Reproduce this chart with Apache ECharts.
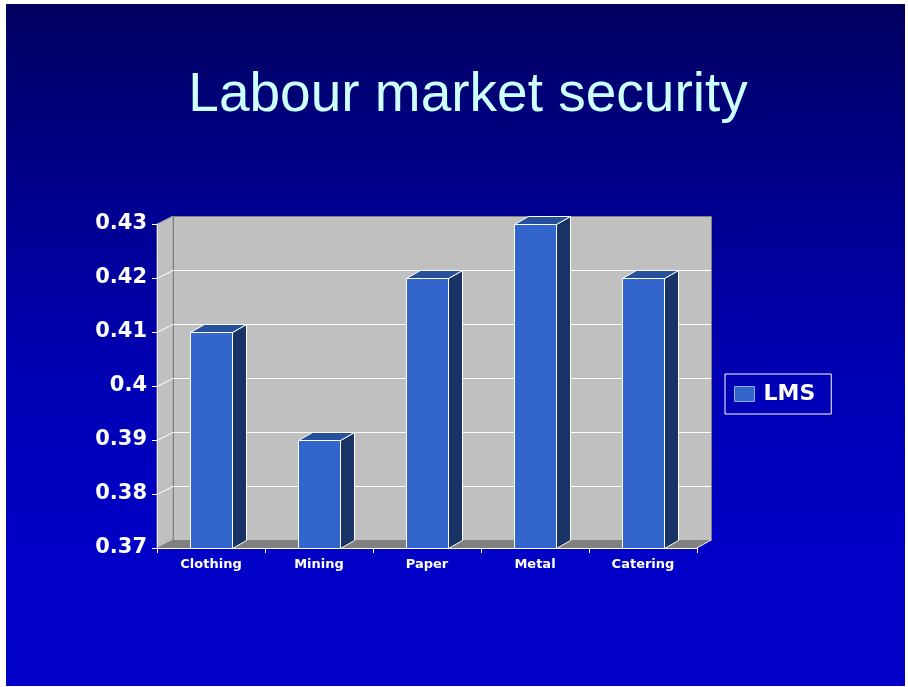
<!DOCTYPE html>
<html>
<head>
<meta charset="utf-8">
<title>Labour market security</title>
<script src="https://cdn.jsdelivr.net/npm/echarts@6/dist/echarts.min.js"></script>
<style>
  html, body { margin: 0; padding: 0; background: #ffffff; }
  #slide {
    position: absolute; left: 6px; top: 4px; width: 899px; height: 682px;
    background: linear-gradient(to bottom, #000060 0%, #000090 30%, #0000b4 55%, #0000c6 80%, #0000c8 100%);
  }
  #chart { position: absolute; left: 0; top: 0; width: 908px; height: 687px; }
</style>
</head>
<body>
<div id="slide"></div>
<div id="chart"></div>
<script>
// Chart data
const categories = ['Clothing', 'Mining', 'Paper', 'Metal', 'Catering'];
const lmsValues = [0.41, 0.39, 0.42, 0.43, 0.42];
const gridValues = [0.37, 0.38, 0.39, 0.40, 0.41, 0.42, 0.43];
const yMin = 0.37;
const yMax = 0.43;
const yStep = 0.01;

// 3D look: offset of the back wall and depth of each column
const WALL_DX = 16, WALL_DY = -8;
const BAR_DX = 14, BAR_DY = -8;

const chart = echarts.init(document.getElementById('chart'), null, { renderer: 'canvas' });

// Back wall, side wall, floor and the gridlines drawn on them
function renderBackdrop(params, api) {
  const cs = params.coordSys;
  const left = cs.x, top = cs.y, right = cs.x + cs.width, bottom = cs.y + cs.height;
  const children = [];
  const v = api.value(1);
  if (params.dataIndex === 0) {
    children.push({
      type: 'polygon',
      shape: { points: [[left, top], [left + WALL_DX, top + WALL_DY], [left + WALL_DX, bottom + WALL_DY], [left, bottom]] },
      style: { fill: '#c0c0c0', stroke: '#9a9a9a', lineWidth: 1 }
    });
    children.push({
      type: 'rect',
      shape: { x: left + WALL_DX + 0.5, y: top + WALL_DY + 0.5, width: cs.width - 2, height: cs.height },
      style: { fill: '#c0c0c0', stroke: '#808080', lineWidth: 1 }
    });
    children.push({
      type: 'polygon',
      shape: { points: [[left, bottom], [left + WALL_DX, bottom + WALL_DY], [right + WALL_DX - 2, bottom + WALL_DY], [right, bottom]] },
      style: { fill: '#808080' }
    });
    children.push({
      type: 'line',
      shape: { x1: right, y1: bottom, x2: right + WALL_DX - 2, y2: bottom + WALL_DY },
      style: { stroke: '#ffffff', lineWidth: 1 }
    });
  }
  if (v > yMin && v < yMax) {
    const y = Math.round(api.coord([0, v])[1]) + 0.5;
    children.push({
      type: 'polyline',
      shape: { points: [[left, y], [left + WALL_DX, y + WALL_DY], [right + WALL_DX - 2, y + WALL_DY]] },
      style: { stroke: '#ffffff', lineWidth: 1, fill: null }
    });
  }
  return { type: 'group', children: children };
}

// Columns with a front face, a lit top and a shaded side
function renderColumn(params, api) {
  const idx = api.value(0);
  const val = api.value(1);
  const topPt = api.coord([idx, val]);
  const basePt = api.coord([idx, yMin]);
  const w = Math.round(api.size([1, 0])[0] * 0.39);
  const x0 = Math.round(topPt[0] - w / 2) + 0.5;
  const x1 = x0 + w;
  const yT = Math.round(topPt[1]) + 0.5;
  const yB = Math.round(basePt[1]) + 0.5;
  const edge = { stroke: '#ffffff', lineWidth: 1, lineJoin: 'round' };
  return {
    type: 'group',
    children: [
      {
        type: 'polygon',
        shape: { points: [[x1, yT], [x1 + BAR_DX, yT + BAR_DY], [x1 + BAR_DX, yB + BAR_DY], [x1, yB]] },
        style: Object.assign({ fill: '#1a3366' }, edge)
      },
      {
        type: 'polygon',
        shape: { points: [[x0, yT], [x0 + BAR_DX, yT + BAR_DY], [x1 + BAR_DX, yT + BAR_DY], [x1, yT]] },
        style: Object.assign({ fill: '#27509c' }, edge)
      },
      {
        type: 'rect',
        shape: { x: x0, y: yT, width: w, height: yB - yT },
        style: Object.assign({ fill: '#3366cc' }, edge)
      }
    ]
  };
}

const option = {
  backgroundColor: 'transparent',
  animation: false,
  title: {
    text: 'Labour market security',
    left: 463,
    top: 63,
    textAlign: 'center',
    textStyle: {
      color: '#ccffff',
      fontFamily: 'Liberation Sans, Arial, sans-serif',
      fontWeight: 'normal',
      fontSize: 55
    }
  },
  legend: {
    data: ['LMS'],
    left: 725,
    top: 374,
    orient: 'vertical',
    padding: [9, 16, 9, 9],
    borderColor: '#ffffff',
    borderWidth: 1,
    itemWidth: 20,
    itemHeight: 15,
    icon: 'rect',
    itemStyle: { color: '#3366cc', borderColor: '#8fb0f0', borderWidth: 1 },
    textStyle: {
      color: '#ffffff',
      fontFamily: 'DejaVu Sans',
      fontWeight: 'bold',
      fontSize: 22,
      lineHeight: 15,
      padding: [0, 0, 0, 4]
    }
  },
  grid: { left: 157, top: 224, right: 211, bottom: 139, containLabel: false },
  xAxis: {
    type: 'category',
    data: categories,
    z: 10,
    axisLine: { show: true, lineStyle: { color: '#ffffff', width: 1 } },
    axisTick: { show: true, length: 5, lineStyle: { color: '#ffffff' } },
    axisLabel: {
      color: '#ffffff',
      fontFamily: 'DejaVu Sans',
      fontWeight: 'bold',
      fontSize: 13,
      margin: 10
    },
    splitLine: { show: false }
  },
  yAxis: {
    type: 'value',
    min: yMin,
    max: yMax,
    interval: yStep,
    z: 10,
    axisLine: { show: true, lineStyle: { color: '#e4e4e4', width: 1 } },
    axisTick: { show: true, length: 5, lineStyle: { color: '#ffffff' } },
    axisLabel: {
      color: '#ffffff',
      fontFamily: 'DejaVu Sans',
      fontWeight: 'bold',
      fontSize: 21,
      margin: 10,
      padding: [8, 0, 0, 0],
      formatter: function (v) { return String(Math.round(v * 100) / 100); }
    },
    splitLine: { show: false }
  },
  series: [
    {
      type: 'custom',
      name: 'backdrop',
      silent: true,
      z: 1,
      renderItem: renderBackdrop,
      encode: { x: 0, y: 1 },
      data: gridValues.map(function (v) { return [0, v]; })
    },
    {
      type: 'custom',
      name: 'LMS',
      z: 3,
      itemStyle: { color: '#3366cc' },
      renderItem: renderColumn,
      encode: { x: 0, y: 1 },
      data: lmsValues.map(function (v, i) { return [i, v]; })
    }
  ]
};

chart.setOption(option);
</script>
</body>
</html>
